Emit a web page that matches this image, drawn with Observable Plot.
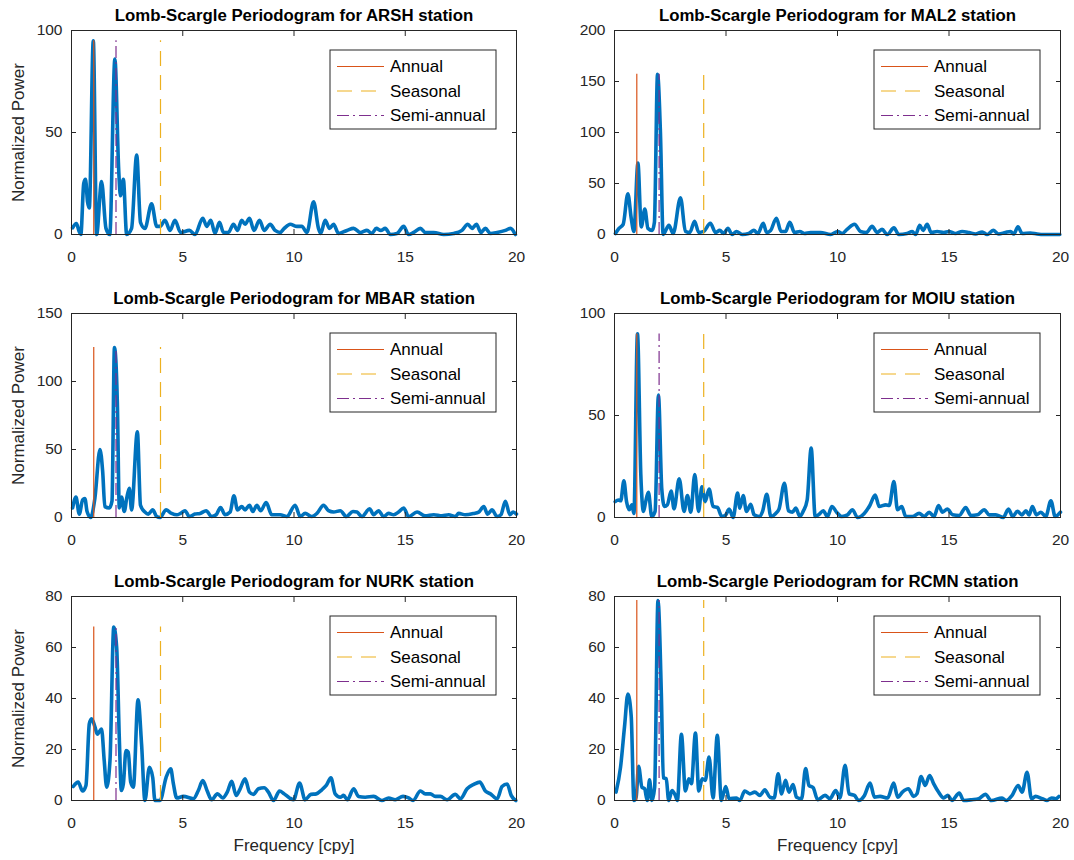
<!DOCTYPE html>
<html><head><meta charset="utf-8">
<script src="https://cdn.jsdelivr.net/npm/d3@7"></script>
<script src="https://cdn.jsdelivr.net/npm/@observablehq/plot@0.6"></script>
<style>
body{margin:0;background:#fff;}
#chart{position:relative;width:1074px;height:860px;font-family:"Liberation Sans",Arial,Helvetica,sans-serif;}
#chart svg{position:absolute;overflow:visible;}
</style></head><body><div id="chart"></div>
<script>
// ---- data ----
const stations = ["ARSH","MAL2","MBAR","MOIU","NURK","RCMN"];
const yTicksList = [[0,50,100],[0,50,100,150,200],[0,50,100,150],[0,50,100],[0,20,40,60,80],[0,20,40,60,80]];
const xTicks = [0,5,10,15,20];
const refNames = ["Annual","Seasonal","Semi-annual"];
const refFreqs = [1,4,2];

const ARSH = [[0.05,3.3],[0.22,5.4],[0.35,1.3],[0.42,0],[0.55,25],[0.63,27],[0.72,16],[0.8,13],[0.98,95],[1.13,0],[1.35,26],[1.55,3],[1.72,0],[1.95,86],[2.12,32],[2.2,19],[2.33,27],[2.48,0],[2.7,3],[2.93,39],[3.1,6],[3.3,3],[3.6,15],[3.83,4],[3.98,4],[4.2,7],[4.43,2],[4.65,7],[4.9,1],[5.3,2],[5.55,0],[5.9,8],[6.08,4],[6.26,7],[6.45,0.5],[6.65,6],[6.83,1],[7.05,1],[7.28,5],[7.46,2],[7.65,7],[7.8,5],[8.0,8],[8.2,2],[8.45,7],[8.66,2],[8.93,5],[9.15,2],[9.38,1],[9.56,3],[9.83,5],[10.13,4],[10.35,4],[10.58,1],[10.88,16],[11.1,3],[11.2,0.5],[11.4,7],[11.6,3],[11.78,5],[12.0,0.5],[12.38,2],[12.68,3],[12.98,1],[13.28,2],[13.5,0.5],[13.7,3],[13.9,2],[14.1,3],[14.33,0],[14.63,0.5],[14.93,4],[15.15,0],[15.38,1],[15.68,3],[15.9,1],[16.28,1],[16.73,0],[17.18,0.5],[17.55,2],[17.81,5],[18.0,3],[18.2,5],[18.4,1],[18.6,3],[18.83,0.5],[19.13,1],[19.5,2],[19.73,3],[19.95,0]];
const MAL2 = [[0.04,1],[0.2,6],[0.39,10],[0.6,40],[0.75,16],[0.87,3],[1.05,70],[1.2,7.5],[1.36,25],[1.5,6],[1.69,4],[1.79,12],[1.93,157],[2.06,100],[2.18,0],[2.44,9],[2.63,1],[2.96,36],[3.18,3],[3.38,2],[3.59,13],[3.78,2],[4.0,3],[4.3,11],[4.53,2],[4.72,4],[4.9,1],[5.08,6],[5.28,0],[5.47,3],[5.72,0],[6.02,1],[6.25,4],[6.43,1],[6.67,11],[6.82,2],[7.0,4],[7.26,16],[7.47,3],[7.67,3],[7.86,12],[8.07,2],[8.31,3],[8.52,1],[8.79,2],[9.24,2],[9.69,0],[10.01,3],[10.21,1],[10.43,5],[10.76,10],[11.03,3],[11.3,2],[11.55,8],[11.78,2],[12.0,5],[12.23,0],[12.53,6.5],[12.75,0],[13.12,1],[13.35,3],[13.5,0],[13.69,9],[13.84,4],[14.02,10],[14.2,2],[14.47,3],[14.77,2],[14.99,3],[15.29,1],[15.59,3],[15.89,2],[16.19,0.5],[16.49,2.5],[16.71,0],[16.98,4],[17.23,0.5],[17.53,2],[17.76,3],[17.91,0.5],[18.09,7.5],[18.28,1],[18.65,1.5],[18.95,0.5],[19.25,0],[19.97,0]];
const MBAR = [[0.05,7],[0.2,15],[0.35,2.5],[0.5,13],[0.6,14],[0.7,4.4],[0.86,0],[1.05,14],[1.28,50],[1.4,34],[1.5,8],[1.7,7],[1.82,12],[1.93,125],[2.06,85],[2.15,7],[2.25,15],[2.37,4.4],[2.48,14],[2.6,21.5],[2.7,5.6],[2.96,63],[3.1,9],[3.3,4],[3.45,2.5],[3.65,5.6],[3.83,0.7],[3.98,0],[4.25,5.6],[4.5,3],[4.73,2],[4.9,3],[5.1,5],[5.3,0.7],[5.55,2.5],[5.78,3],[6.05,5],[6.3,0.7],[6.5,2],[6.7,7.4],[6.9,2],[7.13,4],[7.3,16],[7.46,5.6],[7.65,8],[7.8,5.6],[8.0,9],[8.15,4.4],[8.33,9],[8.5,5],[8.75,11],[9.0,2],[9.38,2],[9.68,0.7],[10.05,9],[10.28,0.7],[10.5,3],[10.8,0.7],[11.03,3],[11.33,9],[11.55,5],[11.78,4],[12.08,5],[12.35,0.7],[12.65,4.4],[12.83,4],[13.05,0.7],[13.4,6.4],[13.58,2],[13.8,5],[14.03,0.7],[14.25,3],[14.48,2],[14.7,4],[14.93,7],[15.15,0.7],[15.53,4],[15.9,1.2],[16.28,2],[16.65,1.2],[16.95,2],[17.25,0.7],[17.4,3],[17.7,2],[18.08,3],[18.3,4],[18.53,8],[18.7,2.5],[18.9,5.6],[19.13,0.7],[19.3,2],[19.5,12],[19.7,2],[19.85,4],[20,2.5]];
const MOIU = [[0.03,7.8],[0.18,8.6],[0.28,8.2],[0.42,18],[0.54,7.8],[0.66,3.8],[0.78,6.2],[0.87,2],[1.03,90],[1.18,21],[1.3,3],[1.4,7.8],[1.52,12.4],[1.67,0.5],[1.82,3],[1.97,60],[2.12,14],[2.24,5.4],[2.37,6.2],[2.54,13],[2.67,4.2],[2.9,19],[3.12,3],[3.27,10.8],[3.42,2.6],[3.6,21],[3.77,3],[3.92,15],[4.07,7.8],[4.24,14],[4.42,5.4],[4.62,4.9],[4.81,0.5],[4.99,1.3],[5.14,4.2],[5.32,0],[5.52,12],[5.62,4.6],[5.77,10.8],[5.92,3],[6.11,6.5],[6.26,1.3],[6.49,0.5],[6.64,3],[6.83,11.4],[7.01,0.5],[7.23,2],[7.38,4.2],[7.62,16.8],[7.8,3.3],[7.98,2.6],[8.13,4.6],[8.31,0.5],[8.46,3],[8.64,8.6],[8.82,34],[9.0,0.5],[9.18,1.6],[9.36,3.3],[9.55,0.5],[9.75,5.4],[9.96,2.6],[10.19,0.5],[10.45,1.3],[10.67,3.8],[10.9,0],[11.2,2],[11.45,5.9],[11.69,11],[11.87,5.4],[12.17,6.2],[12.32,5.9],[12.53,17.6],[12.69,3.8],[12.88,5.4],[13.06,0.5],[13.36,0.5],[13.66,2],[13.89,0.5],[14.11,2.6],[14.33,0.5],[14.53,5.9],[14.71,2.6],[14.93,4.2],[15.16,1.3],[15.46,1],[15.75,4.9],[15.98,1],[16.28,1.3],[16.58,3.8],[16.8,1.3],[17.1,1.3],[17.43,0],[17.67,4.2],[17.85,0.5],[18.07,3],[18.27,1.3],[18.45,3.3],[18.59,1.3],[18.74,5.4],[18.92,1.3],[19.12,2.6],[19.34,0.5],[19.57,8.2],[19.76,0.5],[20,2.6]];
const NURK = [[0.08,5.5],[0.3,7.2],[0.5,3.7],[0.65,5.9],[0.8,30],[0.9,32],[1.05,29],[1.16,26],[1.25,27],[1.35,28],[1.47,15.7],[1.58,5.2],[1.73,15.7],[1.9,68],[2.03,60],[2.15,24],[2.24,3.9],[2.33,6.5],[2.45,19.6],[2.55,19],[2.66,7.2],[2.78,5.2],[2.99,39.5],[3.15,22],[3.3,0],[3.5,13],[3.65,9],[3.75,0],[3.98,0],[4.25,9],[4.46,12.4],[4.58,6.5],[4.73,1],[5.03,1.6],[5.48,0.7],[5.7,3.9],[5.9,7.8],[6.1,3.7],[6.3,0.3],[6.56,2.6],[6.8,1],[7.0,3.3],[7.2,7.5],[7.4,2],[7.58,4.6],[7.8,8.5],[8.0,3.3],[8.18,2.4],[8.4,4.6],[8.66,5],[8.85,3.3],[9.08,0],[9.35,3.7],[9.56,2.6],[9.8,1],[9.98,0.3],[10.25,6.8],[10.5,0.3],[10.76,2.4],[11.0,2.6],[11.25,4.2],[11.45,5.9],[11.66,8.9],[11.85,2.6],[12.08,1.3],[12.23,2],[12.4,0.3],[12.68,4.6],[12.9,1.6],[13.2,1.3],[13.58,1.6],[13.95,0],[14.25,1],[14.55,0.3],[14.9,1.6],[15.15,1],[15.35,0],[15.68,3.7],[15.9,2.6],[16.13,2.6],[16.35,1.6],[16.58,1.6],[16.88,0.3],[17.25,2.4],[17.48,0.7],[17.78,4.6],[18.08,6.3],[18.35,7.2],[18.6,3.7],[18.83,2.6],[19.13,0.7],[19.35,5.5],[19.58,6.5],[19.76,2],[19.97,0]];
const RCMN = [[0.07,3.3],[0.27,13],[0.45,29],[0.6,41.7],[0.75,33],[0.87,0],[0.97,1.3],[1.08,13.4],[1.23,5.2],[1.35,4.6],[1.47,0],[1.57,8.1],[1.68,0],[1.8,5.2],[1.95,78.4],[2.1,42],[2.19,8.9],[2.32,8.5],[2.43,0],[2.58,3.9],[2.73,2],[2.82,0],[3.0,26],[3.18,3.7],[3.33,8.5],[3.45,6.6],[3.63,26.5],[3.78,3.7],[3.93,8.5],[4.07,7.9],[4.24,17],[4.42,1],[4.61,25.6],[4.79,0],[4.99,5.5],[5.14,0.7],[5.47,1],[5.62,0],[5.84,3.7],[6.07,2.6],[6.29,3.3],[6.52,2],[6.74,4.2],[6.97,1.3],[7.16,1],[7.34,10.5],[7.49,2.6],[7.67,7.9],[7.82,3.3],[8.01,6.3],[8.16,1.3],[8.39,0.7],[8.57,12.5],[8.72,5.9],[8.91,5],[9.11,0.3],[9.44,2],[9.66,0.7],[9.92,3.9],[10.11,1],[10.34,13.8],[10.52,2.6],[10.76,2],[10.94,0],[11.21,2],[11.46,6.8],[11.66,1.3],[11.91,1.6],[12.25,1],[12.52,6.8],[12.7,1.3],[12.91,3.3],[13.18,4.6],[13.41,1.6],[13.56,2.6],[13.75,9.4],[13.93,5.9],[14.13,9.8],[14.31,6.6],[14.53,3.3],[14.76,1],[14.95,2],[15.13,0],[15.46,2.9],[15.66,0],[16.03,0.3],[16.33,0.7],[16.63,2.4],[16.9,0],[17.38,1],[17.56,0],[17.83,2],[18.1,5.9],[18.28,3.3],[18.5,11.1],[18.7,0.7],[18.88,1.6],[19.18,0.7],[19.4,0],[19.6,1],[19.78,0.7],[19.93,1.6]];
const series = [ARSH, MAL2, MBAR, MOIU, NURK, RCMN];

// ---- styles ----
const BLUE = "#0072BD";
const AXIS = "#262626";
const refColors = ["#D95319", "#EDB120", "#7E2F8E"];
const refDash = [null, "15,9", "12,4,2,4"];
const FONT = '"Liberation Sans", Arial, Helvetica, sans-serif';

const chart = document.getElementById("chart");
const W = 537;
const colGeom = [{left: 0, ml: 71, mr: 21}, {left: 537, ml: 77, mr: 14}];
const rowTops = [0, 283, 566];
const rowHeights = [283, 283, 294];

stations.forEach((name, i) => {
  const col = i % 2, row = Math.floor(i / 2);
  const g = colGeom[col];
  const data = series[i];
  const yTicks = yTicksList[i];
  const yMax = yTicks[yTicks.length - 1];
  const peak = d3.max(data, d => d[1]);
  const H = rowHeights[row];
  const marks = [
    Plot.line(data, {x: d => d[0], y: d => d[1], stroke: BLUE, strokeWidth: 3.6, curve: "monotone-x", strokeLinejoin: "round", strokeLinecap: "round"}),
    ...refFreqs.map((f, j) => Plot.ruleX([f], {x: d => d, y1: () => 0, y2: () => peak, stroke: refColors[j], strokeWidth: 1.2, strokeDasharray: refDash[j]})),
    Plot.frame({stroke: AXIS, strokeWidth: 1}),
    Plot.axisX({ticks: xTicks, tickSize: -5, tickPadding: 21, tickFormat: d => String(d), label: null, stroke: AXIS, fill: AXIS, fontSize: 15.5}),
    Plot.axisX({anchor: "top", ticks: xTicks, tickSize: -5, text: null, label: null, stroke: AXIS}),
    Plot.axisY({ticks: yTicks, tickSize: -5, tickPadding: 14, tickFormat: d => String(d), label: null, stroke: AXIS, fill: AXIS, fontSize: 15.5}),
    Plot.axisY({anchor: "right", ticks: yTicks, tickSize: -5, text: null, label: null, stroke: AXIS}),
    Plot.text([`Lomb-Scargle Periodogram for ${name} station`], {frameAnchor: "top", dy: -15, lineAnchor: "middle", fontWeight: "bold", fontSize: 16.8, fill: "#000"})
  ];
  if (col === 0) marks.push(Plot.text(["Normalized Power"], {frameAnchor: "left", dx: -53, rotate: -90, fontSize: 17, fill: AXIS, lineAnchor: "middle", textAnchor: "middle"}));
  if (row === 2) marks.push(Plot.text(["Frequency [cpy]"], {frameAnchor: "bottom", dy: 45, fontSize: 17, fill: AXIS, lineAnchor: "middle"}));

  const svg = Plot.plot({
    width: W, height: H,
    marginLeft: g.ml, marginRight: g.mr, marginTop: 30, marginBottom: H - 234,
    x: {domain: [0, 20]},
    y: {domain: [0, yMax]},
    style: {fontFamily: FONT, fontSize: "15.5px", color: AXIS, background: "transparent"},
    marks
  });
  svg.style.left = g.left + "px";
  svg.style.top = rowTops[row] + "px";

  // legend box inside the axes (top-right)
  const bw = 166, bh = 79;
  const bx = W - g.mr - 20 - bw, by = 30 + 20;
  const lg = d3.select(svg).append("g").attr("transform", `translate(${bx},${by})`).attr("text-anchor", "start");
  lg.append("rect").attr("width", bw).attr("height", bh).attr("fill", "#fff").attr("stroke", AXIS).attr("stroke-width", 1);
  refNames.forEach((lab, j) => {
    const yy = 16.5 + j * 24.5;
    lg.append("line").attr("x1", 7).attr("x2", 54).attr("y1", yy).attr("y2", yy)
      .attr("stroke", refColors[j]).attr("stroke-width", 1.2).attr("stroke-dasharray", refDash[j]);
    lg.append("text").attr("x", 60).attr("y", yy).attr("dy", "0.35em").attr("text-anchor", "start")
      .attr("font-size", 17).attr("font-family", FONT).attr("fill", "#000").text(lab);
  });
  chart.appendChild(svg);
});
</script></body></html>
